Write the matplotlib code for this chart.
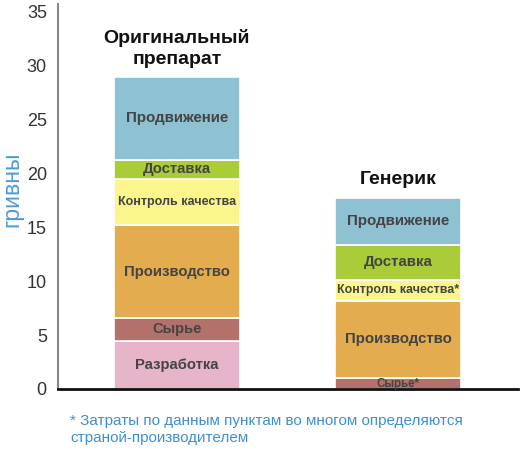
import matplotlib.pyplot as plt

# Данные (гривны)
bars = ["Оригинальный\nпрепарат", "Генерик"]
segments = ["Разработка", "Сырье", "Производство", "Контроль качества", "Доставка", "Продвижение"]
original = [4.5, 2.1, 8.6, 4.3, 1.8, 7.7]
generic = [0.0, 1.0, 7.2, 1.9, 3.3, 4.3]
generic_labels = ["", "Сырье*", "Производство", "Контроль качества*", "Доставка", "Продвижение"]
colors = ["#E6B5C9", "#B4706A", "#E3AC4E", "#FBF68C", "#A9CC38", "#8EC1D1"]
label_sizes = [10.7, 10.5, 10.7, 9.0, 10.7, 10.9]
generic_sizes = [9, 8.3, 10.8, 8.9, 10.8, 10.9]
footnote = "* Затраты по данным пунктам во многом определяются\nстраной-производителем"

plt.rcParams["font.family"] = ["Liberation Sans", "DejaVu Sans"]

fig = plt.figure(figsize=(5.2, 4.5), dpi=100)
ax = fig.add_axes([0.1115, 0.1356, 0.885, 0.8556])

x = [0, 1]
width = 0.57
bottoms = [0.0, 0.0]
for i, seg in enumerate(segments):
    vals = [original[i], generic[i]]
    ax.bar(x, vals, width=width, bottom=bottoms, color=colors[i],
           edgecolor="white", linewidth=1.2)
    for j in range(2):
        if vals[j] <= 0:
            continue
        txt = seg if j == 0 else generic_labels[i]
        size = label_sizes[i] if j == 0 else generic_sizes[i]
        ax.text(x[j], bottoms[j] + vals[j] / 2, txt, ha="center", va="center",
                fontsize=size, fontweight="bold", color="#444444")
    bottoms = [bottoms[0] + vals[0], bottoms[1] + vals[1]]

# подписи над столбцами
ax.text(x[0], bottoms[0] + 0.8, bars[0], ha="center", va="bottom",
        fontsize=14, fontweight="bold", color="#111111", linespacing=1.3)
ax.text(x[1], bottoms[1] + 1.0, bars[1], ha="center", va="bottom",
        fontsize=14, fontweight="bold", color="#111111")

ax.set_xlim(-0.538, 1.543)
ax.set_ylim(0, 35.74)
ax.set_yticks(range(0, 36, 5))
ax.set_xticks([])
ax.tick_params(axis="y", length=0, labelsize=13, labelcolor="#333333", pad=8)
ax.spines["top"].set_visible(False)
ax.spines["right"].set_visible(False)
ax.spines["left"].set_color("#888888")
ax.spines["left"].set_linewidth(1.5)
ax.spines["bottom"].set_color("#111111")
ax.spines["bottom"].set_linewidth(2)

fig.text(0.023, 0.58, "гривны", rotation=90, ha="center", va="center",
         fontsize=16.5, color="#4A9BD6")
fig.text(0.135, 0.012, footnote, ha="left", va="bottom", fontsize=11,
         color="#3F8FD2", linespacing=1.25)

plt.savefig("out.png", dpi=100)
